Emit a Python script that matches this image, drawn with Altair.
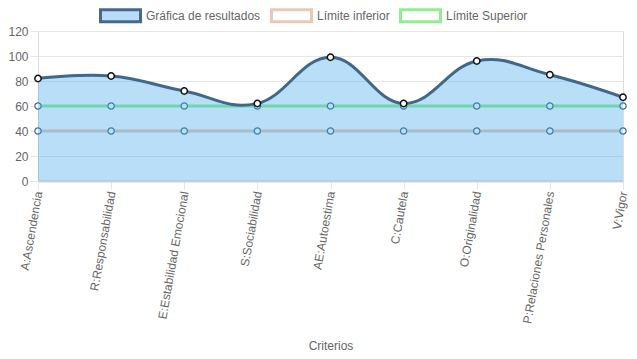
import altair as alt
import pandas as pd

categorias = ["A:Ascendencia", "R:Responsabilidad", "E:Estabilidad Emocional",
              "S:Sociabilidad", "AE:Autoestima", "C:Cautela", "O:Originalidad",
              "P:Relaciones Personales", "V:Vigor"]
resultados = [82, 84, 72, 62, 99, 62, 96, 85, 67]
limite_inferior = [40, 40, 40, 40, 40, 40, 40, 40, 40]
limite_superior = [60, 60, 60, 60, 60, 60, 60, 60, 60]
series = ["Gráfica de resultados", "Límite inferior", "Límite Superior"]
legend_fill = ["#b8dbf7", "#ffffff", "#ffffff"]
legend_stroke = ["#44698c", "#e8c9b9", "#90ee90"]

FONT = "Liberation Sans"
GRID = "#e6e6e6"
TXT = "#666666"

res_df = pd.DataFrame({"criterio": categorias, "valor": resultados})
inf_df = pd.DataFrame({"criterio": categorias, "valor": limite_inferior})
sup_df = pd.DataFrame({"criterio": categorias, "valor": limite_superior})
leg_df = pd.DataFrame({"serie": series})

x_enc = alt.X("criterio:N", sort=categorias,
              scale=alt.Scale(type="point", padding=0),
              axis=alt.Axis(title="Criterios", labelAngle=-80, labelFontSize=12,
                            labelColor=TXT, labelFont=FONT, tickSize=8, tickColor=GRID,
                            gridColor=GRID, domainColor="#d0d0d0", domainWidth=2,
                            labelPadding=2, titleFontSize=12, titleFontWeight="normal",
                            titleColor=TXT, titleFont=FONT, titleY=164,
                            titleBaseline="middle", labelOverlap=False))
y_enc = alt.Y("valor:Q", scale=alt.Scale(domain=[0, 120], nice=False),
              axis=alt.Axis(values=[0, 20, 40, 60, 80, 100, 120], tickSize=8,
                            tickColor=GRID, gridColor=GRID, domain=False,
                            labelColor=TXT, labelFontSize=12, labelFont=FONT,
                            labelPadding=2, title=None, labelOverlap=False))

stroke_scale = alt.Scale(domain=series, range=legend_stroke)
fill_scale = alt.Scale(domain=series, range=legend_fill)
leg = alt.Legend(title=None, orient="none", legendX=61, legendY=-37,
                 direction="horizontal",
                 symbolType="M-1,-0.3H1V0.3H-1Z", symbolSize=1600,
                 symbolStrokeWidth=3, symbolOpacity=1,
                 labelFontSize=12, labelColor=TXT, labelFont=FONT,
                 labelOffset=4, columnPadding=4)

def lim_layers(df, color):
    line = alt.Chart(df).mark_line(strokeWidth=3, color=color).encode(x=x_enc, y=y_enc)
    pts = alt.Chart(df).mark_point(filled=True, size=40, fill="#ffffff",
                                   stroke="#3f6a8a", strokeWidth=1.2,
                                   opacity=1).encode(x=x_enc, y=y_enc)
    return [line, pts]

area = alt.Chart(res_df).mark_area(interpolate="cardinal", tension=-0.2,
                                   color="#36a2eb", opacity=0.35).encode(
    x=x_enc, y=y_enc, y2=alt.datum(0))
res_line = alt.Chart(res_df).mark_line(interpolate="cardinal", tension=-0.2,
                                       color="#41678a", strokeWidth=3).encode(
    x=x_enc, y=y_enc)
res_points = alt.Chart(res_df).mark_point(filled=True, size=40, fill="#ffffff",
                                          stroke="#111111", strokeWidth=1.5,
                                          opacity=1).encode(
    x=x_enc, y=y_enc)

legend_layer = alt.Chart(leg_df).mark_square(filled=True).encode(
    fill=alt.Fill("serie:N", scale=fill_scale, legend=leg),
    stroke=alt.Stroke("serie:N", scale=stroke_scale, legend=leg),
).transform_filter("false")

layers = (lim_layers(inf_df, legend_stroke[1]) + lim_layers(sup_df, legend_stroke[2])
          + [area, res_line, res_points, legend_layer])

chart = alt.layer(*layers).properties(
    width=585, height=150,
    padding={"left": 30, "top": 23, "right": 6, "bottom": 170},
    autosize=alt.AutoSizeParams(type="none"),
).configure_view(stroke=None).configure(background="white")

chart.save("out.html", embed_options={"renderer": "svg", "actions": False})
